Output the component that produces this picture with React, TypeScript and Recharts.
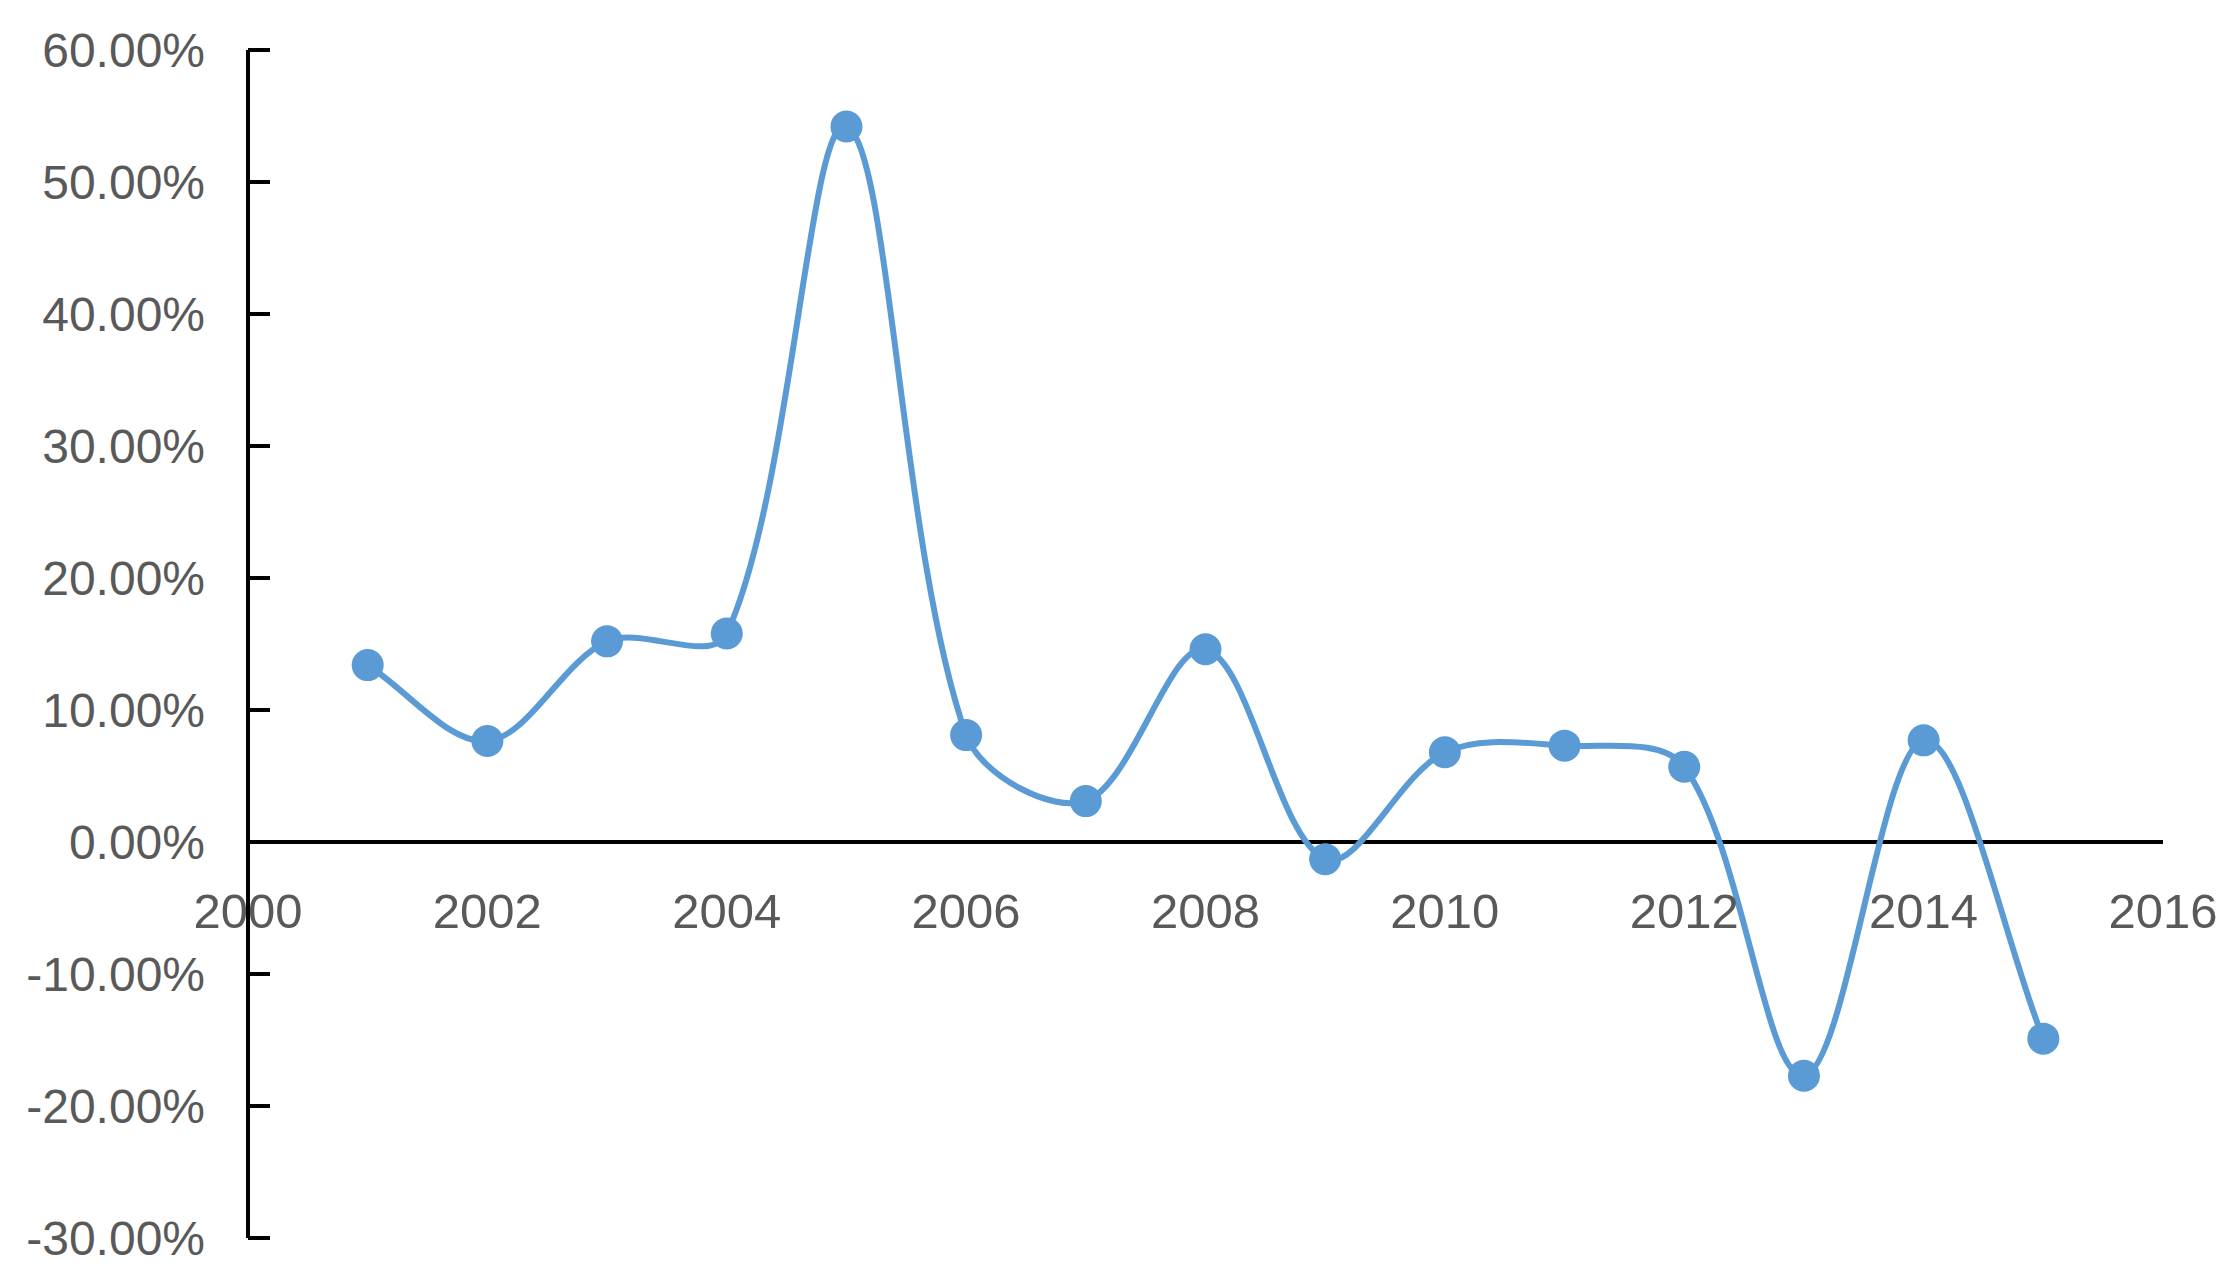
import { LineChart, Line, XAxis, YAxis, ReferenceLine } from "recharts";

const YEARS = [2001, 2002, 2003, 2004, 2005, 2006, 2007, 2008, 2009, 2010, 2011, 2012, 2013, 2014, 2015];
const GROWTH = [13.4, 7.65, 15.2, 15.8, 54.2, 8.1, 3.1, 14.6, -1.3, 6.8, 7.3, 5.7, -17.7, 7.7, -14.9];
const X_TICKS = [2000, 2002, 2004, 2006, 2008, 2010, 2012, 2014, 2016];
const Y_TICKS = [-30, -20, -10, 0, 10, 20, 30, 40, 50, 60];

const data = YEARS.map((year, i) => ({ year, growth: GROWTH[i] }));

const W = 2237;
const H = 1288;
const TOP = 50;
const BOTTOM = 50;
const Y_MIN = -30;
const Y_MAX = 60;
const ZERO_Y = TOP + ((H - TOP - BOTTOM) * Y_MAX) / (Y_MAX - Y_MIN);

const BLUE = "#5b9bd5";
const LABEL = "#595959";
const FONT = "'Liberation Sans', Arial, sans-serif";

// excel-like smoothing: catmull-rom tangents, handles scaled by segment length
function smoothCurve(context: any) {
  let xs: number[] = [];
  let ys: number[] = [];
  const dist = (i: number, j: number) => Math.hypot(xs[j] - xs[i], ys[j] - ys[i]);
  return {
    areaStart() {},
    areaEnd() {},
    lineStart() {
      xs = [];
      ys = [];
    },
    point(x: number, y: number) {
      xs.push(+x);
      ys.push(+y);
    },
    lineEnd() {
      const n = xs.length;
      if (!n) return;
      context.moveTo(xs[0], ys[0]);
      for (let i = 0; i < n - 1; i++) {
        const a = Math.max(i - 1, 0);
        const d = Math.min(i + 2, n - 1);
        const seg = dist(i, i + 1);
        const k1 = (2 * seg) / (dist(a, i) + seg || 1);
        const k2 = (2 * seg) / (seg + dist(i + 1, d) || 1);
        context.bezierCurveTo(
          xs[i] + ((xs[i + 1] - xs[a]) / 6) * k1,
          ys[i] + ((ys[i + 1] - ys[a]) / 6) * k1,
          xs[i + 1] - ((xs[d] - xs[i]) / 6) * k2,
          ys[i + 1] - ((ys[d] - ys[i]) / 6) * k2,
          xs[i + 1],
          ys[i + 1]
        );
      }
    },
  };
}

function YearTick({ x, payload }: any) {
  return (
    <text
      x={x}
      y={ZERO_Y + 69}
      textAnchor="middle"
      dominantBaseline="central"
      fill={LABEL}
      fontSize={49}
      fontFamily={FONT}
    >
      {payload.value}
    </text>
  );
}

export default function App() {
  return (
    <div style={{ position: "absolute", left: 0, top: 0, width: W, height: H, background: "#fff" }}>
      <LineChart width={W} height={H} data={data} margin={{ top: TOP, right: 74, bottom: BOTTOM - 1, left: 0 }}>
        <XAxis
          dataKey="year"
          type="number"
          domain={[2000, 2016]}
          ticks={X_TICKS}
          interval={0}
          axisLine={false}
          tickLine={false}
          height={1}
          tick={<YearTick />}
        />
        <YAxis
          type="number"
          domain={[Y_MIN, Y_MAX]}
          ticks={Y_TICKS}
          interval={0}
          width={248}
          axisLine={{ stroke: "#000", strokeWidth: 4 }}
          tickLine={{ stroke: "#000", strokeWidth: 4 }}
          tickSize={-22}
          tickMargin={65}
          tickFormatter={(v: number) => `${v.toFixed(2)}%`}
          tick={{ fill: LABEL, fontSize: 48, fontFamily: FONT }}
        />
        <ReferenceLine y={0} stroke="#000" strokeWidth={4} />
        <Line
          dataKey="growth"
          type={smoothCurve as any}
          stroke={BLUE}
          strokeWidth={6}
          dot={{ r: 16, fill: BLUE, stroke: "none" }}
          activeDot={false}
          isAnimationActive={false}
        />
      </LineChart>
    </div>
  );
}
